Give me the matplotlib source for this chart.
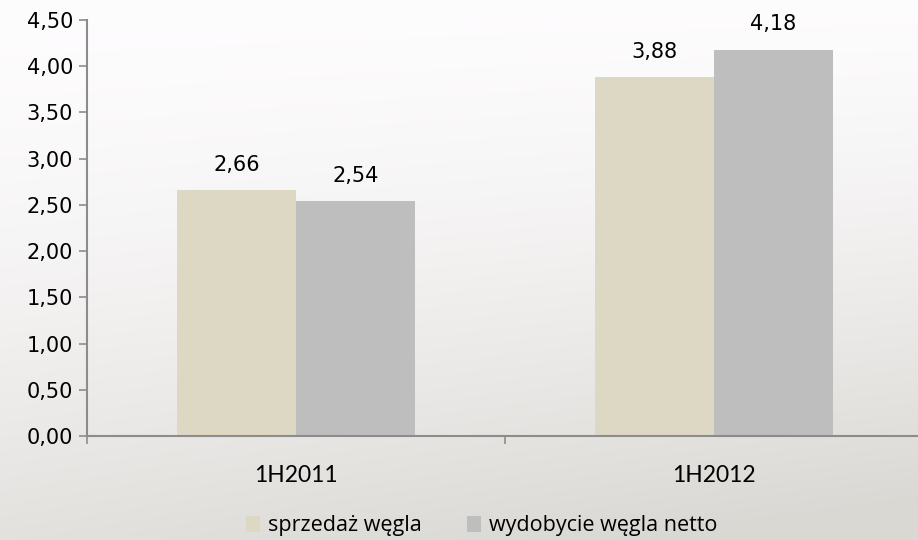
import numpy as np
import matplotlib
matplotlib.use("Agg")
import matplotlib.pyplot as plt
from matplotlib.patches import Patch

categories = ["1H2011", "1H2012"]
series_names = ["sprzedaż węgla", "wydobycie węgla netto"]
sprzedaz = [2.66, 3.88]
wydobycie = [2.54, 4.18]
y_ticks = [0.0, 0.5, 1.0, 1.5, 2.0, 2.5, 3.0, 3.5, 4.0, 4.5]

colors = ["#ddd8c3", "#bebebe"]
axis_color = "#8c8c8c"
tick_font = "DejaVu Sans"
label_font = "Lato"
legend_font = "Open Sans"

fig = plt.figure(figsize=(9.18, 5.4), dpi=100)

# soft background gradient, lighter at the top-left
bg = fig.add_axes([0, 0, 1, 1], zorder=-10)
yy, xx = np.mgrid[0:1:200j, 0:1:300j]
t = np.clip(0.75 * yy ** 1.6 + 0.35 * xx * yy, 0, 1)
top = np.array([0.995, 0.99, 0.995])
bottom = np.array([0.855, 0.848, 0.83])
img = top[None, None, :] * (1 - t[..., None]) + bottom[None, None, :] * t[..., None]
bg.imshow(img, aspect="auto", extent=[0, 1, 0, 1], origin="upper")
bg.axis("off")

ax = fig.add_axes([87 / 918, 1 - 436 / 540, 836 / 918, 416 / 540])
ax.patch.set_alpha(0)

x = np.arange(len(categories))
w = 0.285
b1 = ax.bar(x - w / 2, sprzedaz, width=w, color=colors[0], label=series_names[0])
b2 = ax.bar(x + w / 2, wydobycie, width=w, color=colors[1], label=series_names[1])

def fmt(v):
    return f"{v:.2f}".replace(".", ",")

for bars, vals in ((b1, sprzedaz), (b2, wydobycie)):
    for rect, v in zip(bars, vals):
        ax.annotate(fmt(v), (rect.get_x() + rect.get_width() / 2, v),
                    xytext=(0, 11), textcoords="offset points",
                    ha="center", va="bottom", fontsize=15, family=tick_font)

ax.set_xlim(-0.5, 1.5)
ax.set_ylim(0, 4.5)
ax.set_yticks(y_ticks)
ax.set_yticklabels([fmt(v) for v in y_ticks], fontsize=15, family=tick_font)
ax.set_xticks([-0.5, 0.5, 1.5])
ax.set_xticklabels([])
ax.set_xticks(x, minor=True)
ax.set_xticklabels(categories, minor=True, fontsize=16.5, family=label_font)
ax.tick_params(axis="x", which="minor", length=0, pad=21)
ax.tick_params(axis="x", which="major", length=6, color=axis_color, width=1.2, direction="out")
ax.tick_params(axis="y", length=6, color=axis_color, width=1.2, direction="out", pad=4)

for s in ("top", "right"):
    ax.spines[s].set_visible(False)
for s in ("left", "bottom"):
    ax.spines[s].set_color(axis_color)
    ax.spines[s].set_linewidth(1.5)

handles = [Patch(facecolor=c, edgecolor="none") for c in colors]
fig.legend(handles, series_names, loc="center", bbox_to_anchor=(482 / 918, 1 - 526 / 540),
           ncol=2, frameon=False, prop={"family": legend_font, "size": 15.5},
           handlelength=0.65, handleheight=0.75, handletextpad=0.37, columnspacing=2.1,
           borderpad=0.2)

fig.savefig("out.png", dpi=100)
